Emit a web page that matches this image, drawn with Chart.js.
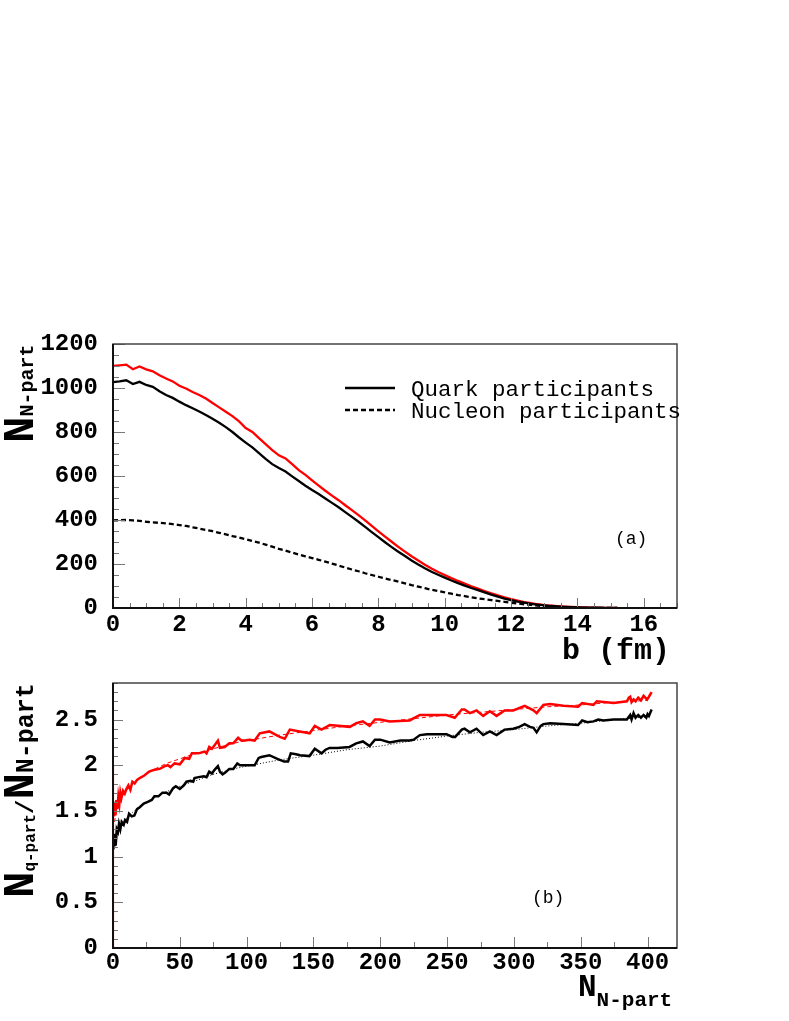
<!DOCTYPE html>
<html><head><meta charset="utf-8">
<script src="https://cdn.jsdelivr.net/npm/chart.js@4/dist/chart.umd.min.js"></script>
<style>
html,body{margin:0;padding:0;background:#fff;width:789px;height:1021px;overflow:hidden}
#c1{position:absolute;left:0;top:300px}
#c2{position:absolute;left:0;top:640px}
</style></head><body>
<canvas id="c1" width="789" height="370"></canvas>
<canvas id="c2" width="789" height="381"></canvas>
<script>
// ---------- Panel (a) data ----------
const bValues = [0,0.2,0.4,0.6,0.8,1,1.2,1.4,1.6,1.8,2,2.2,2.4,2.6,2.8,3,3.2,3.4,3.6,3.8,4,4.2,4.4,4.6,4.8,5,5.2,5.4,5.6,5.8,6,6.2,6.4,6.6,6.8,7,7.2,7.4,7.6,7.8,8,8.2,8.4,8.6,8.8,9,9.2,9.4,9.6,9.8,10,10.2,10.4,10.6,10.8,11,11.2,11.4,11.6,11.8,12,12.2,12.4,12.6,12.8,13,13.2,13.4,13.6,13.8,14,14.2,14.4,14.6,14.8,15,15.2];
const quarkRed = [1100,1103,1106,1085,1098,1085,1076,1058,1043,1030,1010,998,982,968,952,932,912,892,872,848,818,800,772,745,718,694,680,654,627,605,580,556,533,511,490,467,445,422,398,373,348,324,301,278,256,235,216,197,180,164,150,136,123,111,99,88,77,67,57,48,40,33,27,22,17,13.5,10.5,8,6,4.5,3.5,2.6,2,1.5,1,0.6,0.3];
const quarkBlack = [1027,1030,1035,1018,1028,1014,1005,985,968,955,938,922,908,893,877,860,842,822,800,775,752,730,704,678,654,636,620,598,577,556,536,518,498,478,458,436,414,392,369,345,322,299,277,256,236,216,198,181,165,151,138,125,113,102,91,81,71,61,52,43,36,29,24,19,15,12,9,7,5.2,3.8,2.8,2,1.5,1.1,0.8,0.5,0.2];
const nucleon = [398,399,400,398,396,392,389,387,385,381,377,373,367,361,355,349,342,335,327,320,313,305,297,288,279,269,261,252,243,235,227,219,211,202,193,184,175,167,158,150,142,134,127,120,112,104,97,90,83,77,71,65,59,54,49,44,40,36,32,28,24,21,17,14,11,8,6,4,3,2,1.3,0.8,0.5,0.3,0.2,0.1,0];
const aXTicks = [0,2,4,6,8,10,12,14,16];
const aYTicks = [0,200,400,600,800,1000,1200];
const aYLabels = ["0","200","400","600","800","1000","1200"];

// ---------- Panel (b) data ----------
const nBlack = [0.7,1.5,2,2.8,3.7,4.5,5.5,6.5,8,9,10.5,12,14,16,18,20,23,26,29,31,34,37,40,42,45,47,50,53,55,58,60,61,64,68,70,72,74,76,78.5,80,82,84,87,90,93,95,99,103,106,109,111,117,123,128,131,133,137,140,147,151,156,159,162,168,177,182,187,192,196,200,207,215,222,225,229.6,235,249.5,254,256,261,263,267,272,277,282,287,293,299.5,304,308,312,314.6,317,320,322,327,337,348,351,355,359.5,363,367,374.5,380,384.5,386,387,388,389.5,391,393,395,397,399,400,401,403];
const ratioBlack = [1.11,1.25,1.12,1.30,1.27,1.36,1.30,1.38,1.35,1.40,1.38,1.47,1.44,1.45,1.52,1.54,1.58,1.60,1.62,1.66,1.66,1.70,1.70,1.68,1.75,1.77,1.74,1.78,1.82,1.83,1.82,1.86,1.87,1.88,1.87,1.93,1.91,1.95,1.99,1.93,1.90,1.92,1.96,1.96,2.02,2.00,2.00,2.00,2.00,2.08,2.09,2.11,2.07,2.04,2.04,2.13,2.12,2.11,2.10,2.18,2.13,2.17,2.19,2.19,2.20,2.24,2.26,2.21,2.28,2.28,2.25,2.27,2.27,2.28,2.33,2.34,2.34,2.31,2.31,2.39,2.40,2.36,2.40,2.33,2.37,2.33,2.39,2.40,2.42,2.45,2.42,2.41,2.36,2.43,2.45,2.46,2.45,2.44,2.49,2.47,2.48,2.50,2.49,2.50,2.50,2.50,2.53,2.55,2.50,2.57,2.52,2.55,2.52,2.55,2.52,2.56,2.54,2.61];
const nRed = [0.7,1.2,1.8,2.5,3.2,4,4.8,5.5,6.3,7.5,8.8,10,11.5,13,14.5,16.2,18,20,23.7,27,31,35,38.7,41,43,46,50,53.7,57,59,61,64,68.6,70,72,74,76,78.5,80,83.6,87,90,93.6,96,98.6,102,106,109.8,117,124.8,128.5,132.3,139.7,147.2,151,156,162.2,177.2,182,187,192,196,200,207,222,229.6,249.5,255.7,261,263,267,272,277,282,287,293,299.5,308,314.6,317,322,327,337,348,351,359.5,362,374.5,384.5,386,387,388,389.5,391,393,395,397,399.6,401,403];
const ratioRed = [1.44,1.60,1.45,1.62,1.52,1.66,1.58,1.70,1.64,1.72,1.69,1.74,1.78,1.73,1.82,1.80,1.84,1.86,1.89,1.93,1.95,1.96,1.99,2.00,1.98,2.02,2.01,2.08,2.07,2.13,2.13,2.13,2.15,2.13,2.20,2.18,2.22,2.27,2.19,2.20,2.24,2.24,2.30,2.27,2.27,2.28,2.27,2.35,2.37,2.31,2.29,2.39,2.37,2.35,2.43,2.39,2.44,2.42,2.46,2.48,2.43,2.50,2.50,2.48,2.49,2.55,2.55,2.52,2.61,2.61,2.57,2.60,2.54,2.59,2.54,2.60,2.60,2.65,2.60,2.57,2.66,2.67,2.65,2.64,2.68,2.66,2.70,2.68,2.70,2.74,2.75,2.69,2.72,2.70,2.74,2.71,2.76,2.72,2.75,2.80];
const nEdge = [0.5,0.5];
const ratioEdge = [0,2.0];
const nFit = [1,2,3,5,7,10,15,20,30,40,50,60,75,90,100,125,150,175,200,225,250,275,300,325,350,375,400];
const fitBlack = [1.08,1.15,1.22,1.30,1.36,1.42,1.49,1.55,1.64,1.71,1.77,1.82,1.90,1.96,1.99,2.06,2.11,2.17,2.21,2.27,2.32,2.36,2.39,2.43,2.46,2.50,2.53];
const fitRed = [1.38,1.45,1.52,1.60,1.66,1.72,1.80,1.86,1.95,2.02,2.07,2.12,2.18,2.24,2.27,2.33,2.38,2.43,2.47,2.51,2.55,2.58,2.61,2.64,2.66,2.69,2.71];
const bXTicks = [0,50,100,150,200,250,300,350,400];
const bYTicks = [0,0.5,1,1.5,2,2.5];
const bYLabels = ["0","0.5","1","1.5","2","2.5"];

const pts = (xs, ys) => xs.map((x, i) => ({x: x, y: ys[i]}));
const MONO = "'Liberation Mono','DejaVu Sans Mono',monospace";
const TOP1 = 300, TOP2 = 640;   // canvas offsets on the page

// Frame + inward ticks, ROOT style
const rootFrame = {
  id: 'rootFrame',
  afterDatasetsDraw(chart, args, o) {
    const {ctx, chartArea: a, scales: {x, y}} = chart;
    ctx.save();
    ctx.strokeStyle = '#777';
    ctx.lineWidth = 1;
    for (let v = x.min; v <= x.max + 1e-9; v += o.xMinor) {
      const isMaj = Math.abs(v / o.xMajor - Math.round(v / o.xMajor)) < 1e-6;
      const px = Math.round(x.getPixelForValue(v)) + 0.5;
      ctx.beginPath(); ctx.moveTo(px, a.bottom); ctx.lineTo(px, a.bottom - (isMaj ? o.xMaj : o.xMin)); ctx.stroke();
    }
    for (let v = y.min; v <= y.max + 1e-9; v += o.yMinor) {
      const isMaj = Math.abs(v / o.yMajor - Math.round(v / o.yMajor)) < 1e-6;
      const py = Math.round(y.getPixelForValue(v)) + 0.5;
      ctx.beginPath(); ctx.moveTo(a.left, py); ctx.lineTo(a.left + (isMaj ? o.yMaj : o.yMin), py); ctx.stroke();
    }
    ctx.strokeStyle = '#444';
    ctx.lineWidth = 1.5;
    ctx.strokeRect(a.left, a.top, a.right - a.left, a.bottom - a.top);
    ctx.strokeStyle = '#111';
    ctx.lineWidth = 2;
    ctx.beginPath(); ctx.moveTo(a.left, a.top); ctx.lineTo(a.left, a.bottom); ctx.lineTo(a.right, a.bottom); ctx.stroke();
    ctx.restore();
  }
};

// Draw main text + subscripts (page coordinates converted by canvas offset)
function drawRich(ctx, off, x, y, parts, rotate) {
  ctx.save();
  ctx.translate(x, y - off);
  if (rotate) ctx.rotate(-Math.PI / 2);
  ctx.fillStyle = '#000';
  ctx.textBaseline = 'alphabetic';
  ctx.textAlign = 'left';
  let cx = 0;
  for (const p of parts) {
    ctx.font = p.font;
    ctx.fillText(p.t, cx, p.dy || 0);
    cx += ctx.measureText(p.t).width + (p.gap || 0);
  }
  ctx.restore();
}
function text(ctx, off, s, x, y, font) {
  ctx.save();
  ctx.fillStyle = '#000';
  ctx.font = font;
  ctx.textBaseline = 'alphabetic';
  ctx.textAlign = 'left';
  ctx.fillText(s, x, y - off);
  ctx.restore();
}

const annotA = {
  id: 'annotA',
  afterDraw(chart) {
    const ctx = chart.ctx, off = TOP1;
    ctx.save();
    ctx.strokeStyle = '#000';
    ctx.lineWidth = 2.3;
    ctx.beginPath(); ctx.moveTo(345, 388 - off); ctx.lineTo(395, 388 - off); ctx.stroke();
    ctx.setLineDash([5, 3]);
    ctx.beginPath(); ctx.moveTo(345, 410 - off); ctx.lineTo(395, 410 - off); ctx.stroke();
    ctx.restore();
    text(ctx, off, 'Quark participants', 411, 396, "22.5px " + MONO);
    text(ctx, off, 'Nucleon participants', 411, 418, "22.5px " + MONO);
    text(ctx, off, '(a)', 615, 544, "18px " + MONO);
    text(ctx, off, 'b (fm)', 562, 659, "bold 30px " + MONO);
    drawRich(ctx, off, 33, 443, [
      {t: 'N', font: "bold 44px " + MONO},
      {t: 'N-part', font: "bold 20px " + MONO, dy: 0}
    ], true);
  }
};

const annotB = {
  id: 'annotB',
  afterDraw(chart) {
    const ctx = chart.ctx, off = TOP2;
    text(ctx, off, '(b)', 532, 903, "18px " + MONO);
    drawRich(ctx, off, 33, 898, [
      {t: 'N', font: "bold 44px " + MONO},
      {t: 'q-part', font: "bold 16px " + MONO, dy: 2},
      {t: '/', font: "bold 24px " + MONO},
      {t: 'N', font: "bold 44px " + MONO},
      {t: 'N-part', font: "bold 25px " + MONO, dy: 0}
    ], true);
    drawRich(ctx, off, 578, 996, [
      {t: 'N', font: "bold 31px " + MONO},
      {t: 'N-part', font: "bold 21px " + MONO, dy: 10}
    ], false);
  }
};

function scaleX(min, max, tickVals, padding, height) {
  return {
    type: 'linear', min: min, max: max,
    grid: {display: false, drawTicks: false}, border: {display: false},
    afterBuildTicks: s => { s.ticks = tickVals.map(v => ({value: v})); },
    ticks: {color: '#000', padding: padding, font: {family: MONO, weight: 'bold', size: 24},
      callback: v => String(v), maxRotation: 0, autoSkip: false},
    afterFit: s => { s.height = height; }
  };
}
function scaleY(min, max, tickVals, labels) {
  return {
    type: 'linear', min: min, max: max,
    grid: {display: false, drawTicks: false}, border: {display: false},
    afterBuildTicks: s => { s.ticks = tickVals.map(v => ({value: v})); },
    ticks: {color: '#000', padding: 15, font: {family: MONO, weight: 'bold', size: 24},
      callback: v => labels[tickVals.indexOf(v)], autoSkip: false},
    afterFit: s => { s.width = 113; }
  };
}

const common = {
  responsive: false, animation: false, devicePixelRatio: 1,
  plugins: {legend: {display: false}, tooltip: {enabled: false}},
  elements: {point: {radius: 0}, line: {tension: 0}}
};

function fitTop(chart, desired) {
  for (let i = 0; i < 4; i++) {
    const d = desired - chart.chartArea.top;
    if (Math.abs(d) < 0.5) break;
    chart.options.layout.padding.top = Math.max(0, chart.options.layout.padding.top + d);
    chart.update();
  }
}

const chartA = new Chart(document.getElementById('c1'), {
  type: 'line',
  data: {datasets: [
    {data: pts(bValues, nucleon), borderColor: '#000', borderWidth: 2.3, borderDash: [5, 3]},
    {data: pts(bValues, quarkBlack), borderColor: '#000', borderWidth: 2.3},
    {data: pts(bValues, quarkRed), borderColor: '#ff0000', borderWidth: 2.3}
  ]},
  options: Object.assign({}, common, {
    layout: {padding: {left: 0, top: 30, right: 112, bottom: 0}},
    scales: {x: scaleX(0, 17, aXTicks, 3, 62), y: scaleY(0, 1200, aYTicks, aYLabels)},
    plugins: Object.assign({}, common.plugins, {
      rootFrame: {xMinor: 0.5, xMajor: 2, yMinor: 50, yMajor: 200, xMaj: 10, xMin: 5, yMaj: 12, yMin: 6}
    })
  }),
  plugins: [rootFrame, annotA]
});
fitTop(chartA, 344 - TOP1);

const chartB = new Chart(document.getElementById('c2'), {
  type: 'line',
  data: {datasets: [
    {data: pts(nFit, fitBlack), borderColor: '#000', borderWidth: 1, borderDash: [1, 2]},
    {data: pts(nFit, fitRed), borderColor: '#ff0000', borderWidth: 1, borderDash: [4, 3]},
    {data: pts(nEdge, ratioEdge), borderColor: 'rgba(255,0,0,0.45)', borderWidth: 1},
    {data: pts(nBlack, ratioBlack), borderColor: '#000', borderWidth: 2.5},
    {data: pts(nRed, ratioRed), borderColor: '#ff0000', borderWidth: 2.5}
  ]},
  options: Object.assign({}, common, {
    layout: {padding: {left: 0, top: 28, right: 112, bottom: 0}},
    scales: {x: scaleX(0, 422, bXTicks, 1, 73), y: scaleY(0, 2.9, bYTicks, bYLabels)},
    plugins: Object.assign({}, common.plugins, {
      rootFrame: {xMinor: 25, xMajor: 50, yMinor: 0.1, yMajor: 0.5, xMaj: 11, xMin: 6, yMaj: 10, yMin: 5}
    })
  }),
  plugins: [rootFrame, annotB]
});
fitTop(chartB, 683 - TOP2);
</script>
</body></html>
